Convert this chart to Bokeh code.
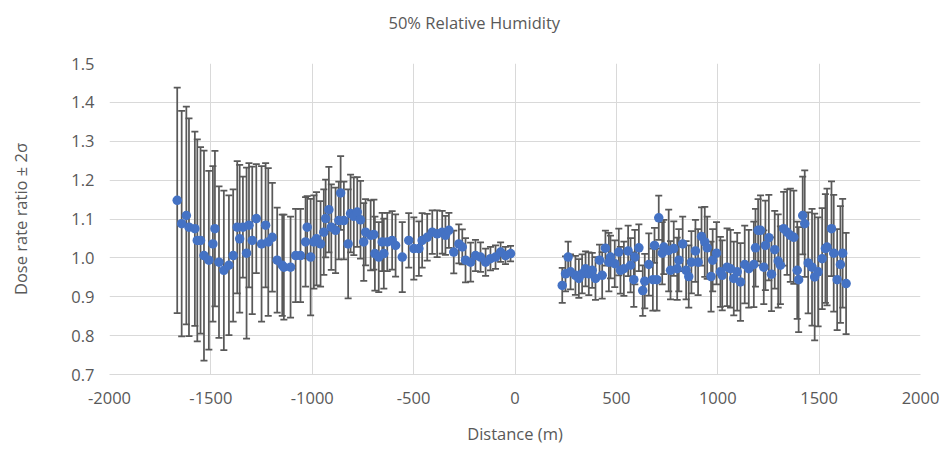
from bokeh.plotting import figure
from bokeh.models import (ColumnDataSource, Whisker, TeeHead, FixedTicker, Range1d,
                          CustomJSTickFormatter, Title)
from bokeh.embed import file_html
from bokeh.resources import INLINE

# ---- data ----
x_left = [-1666, -1644, -1621, -1608, -1579, -1567, -1551, -1534, -1510, -1490,
          -1480, -1460, -1436, -1411, -1390, -1370, -1358, -1342, -1324, -1312,
          -1296, -1276, -1250, -1230, -1217, -1197, -1173, -1148, -1140, -1107,
          -1082, -1058, -1033, -1025, -1008, -992, -979, -959, -943, -934,
          -918, -906, -885, -869, -860, -844, -823, -811, -795, -778,
          -762, -746, -737, -712, -696, -691, -672, -655, -647, -630,
          -606, -589, -556, -524, -499, -474, -458, -433, -408, -384,
          -359, -343, -326, -302, -277, -260, -244, -219, -195, -170,
          -145, -121, -96, -71, -47, -22]
y_left = [1.148, 1.088, 1.109, 1.079, 1.075, 1.045, 1.045, 1.006, 0.994, 1.036,
          1.075, 0.989, 0.968, 0.981, 1.006, 1.079, 1.049, 1.079, 1.012, 1.084,
          1.045, 1.101, 1.036, 1.084, 1.041, 1.053, 0.994, 0.981, 0.976, 0.976,
          1.006, 1.006, 1.041, 1.079, 1.002, 1.041, 1.049, 1.036, 1.066, 1.101,
          1.124, 1.079, 1.071, 1.096, 1.167, 1.096, 1.036, 1.114, 1.107, 1.118,
          1.098, 1.041, 1.066, 1.058, 1.060, 1.011, 1.002, 1.041, 1.011, 1.041,
          1.045, 1.032, 1.002, 1.045, 1.024, 1.024, 1.045, 1.053, 1.066, 1.062,
          1.066, 1.058, 1.071, 1.015, 1.036, 1.028, 0.994, 0.989, 1.006, 1.002,
          0.989, 0.998, 1.002, 1.015, 1.006, 1.011]
err_left = [0.290, 0.290, 0.280, 0.280, 0.250, 0.260, 0.240, 0.270, 0.230, 0.200,
            0.200, 0.195, 0.205, 0.180, 0.170, 0.170, 0.190, 0.130, 0.220, 0.160,
            0.190, 0.140, 0.200, 0.160, 0.190, 0.140, 0.135, 0.130, 0.135, 0.130,
            0.120, 0.120, 0.115, 0.080, 0.150, 0.120, 0.120, 0.110, 0.110, 0.100,
            0.110, 0.110, 0.110, 0.100, 0.095, 0.100, 0.140, 0.100, 0.100, 0.090,
            0.100, 0.100, 0.085, 0.090, 0.090, 0.095, 0.090, 0.075, 0.090, 0.075,
            0.075, 0.080, 0.090, 0.070, 0.080, 0.070, 0.070, 0.060, 0.056, 0.060,
            0.055, 0.050, 0.045, 0.055, 0.050, 0.045, 0.057, 0.050, 0.040, 0.038,
            0.035, 0.030, 0.030, 0.025, 0.022, 0.020]

x_right = [233, 249, 262, 274, 298, 315, 331, 348, 364, 381,
           397, 417, 430, 446, 463, 471, 492, 512, 520, 537,
           558, 570, 586, 591, 611, 630, 640, 660, 680, 688,
           700, 709, 726, 734, 758, 767, 783, 800, 808, 827,
           844, 857, 870, 890, 903, 920, 936, 948, 967, 975,
           994, 1013, 1022, 1046, 1063, 1079, 1096, 1112, 1133, 1153,
           1178, 1186, 1199, 1211, 1227, 1235, 1252, 1265, 1281, 1298,
           1309, 1325, 1342, 1358, 1375, 1392, 1399, 1419, 1429, 1446,
           1465, 1478, 1495, 1515, 1531, 1539, 1561, 1572, 1589, 1605,
           1616, 1633]
y_right = [0.929, 0.959, 1.002, 0.964, 0.955, 0.947, 0.959, 0.972, 0.959, 0.968,
           0.947, 0.994, 0.955, 1.025, 0.989, 1.002, 0.985, 1.015, 0.968, 0.972,
           1.018, 0.981, 0.944, 1.002, 1.026, 0.916, 0.940, 0.983, 0.944, 1.032,
           0.944, 1.103, 1.012, 1.028, 1.019, 0.968, 1.024, 0.972, 0.994, 1.036,
           0.968, 0.952, 0.989, 1.018, 0.989, 1.055, 1.041, 1.026, 0.952, 0.994,
           1.012, 0.964, 0.955, 0.976, 0.972, 0.947, 0.964, 0.938, 0.983, 0.972,
           0.983, 1.026, 1.071, 1.071, 0.976, 1.032, 1.052, 0.958, 1.021, 0.992,
           0.981, 1.075, 1.066, 1.058, 1.053, 0.968, 0.944, 1.109, 1.088, 0.987,
           0.976, 0.951, 0.964, 0.998, 1.024, 1.028, 1.075, 1.012, 0.944, 0.983,
           1.012, 0.934]
err_right = [0.045, 0.045, 0.040, 0.045, 0.050, 0.050, 0.050, 0.045, 0.055, 0.045,
             0.055, 0.040, 0.060, 0.045, 0.075, 0.055, 0.060, 0.060, 0.060, 0.070,
             0.065, 0.070, 0.070, 0.070, 0.060, 0.065, 0.070, 0.080, 0.080, 0.045,
             0.080, 0.057, 0.080, 0.070, 0.105, 0.075, 0.070, 0.080, 0.080, 0.070,
             0.075, 0.080, 0.080, 0.080, 0.085, 0.075, 0.090, 0.080, 0.090, 0.080,
             0.080, 0.090, 0.090, 0.100, 0.100, 0.095, 0.100, 0.100, 0.100, 0.100,
             0.110, 0.100, 0.080, 0.090, 0.095, 0.115, 0.110, 0.095, 0.100, 0.120,
             0.100, 0.095, 0.110, 0.120, 0.120, 0.125, 0.135, 0.100, 0.137, 0.130,
             0.150, 0.163, 0.140, 0.130, 0.140, 0.150, 0.122, 0.150, 0.130, 0.150,
             0.140, 0.130]

x_ticks = [-2000, -1500, -1000, -500, 0, 500, 1000, 1500, 2000]
y_ticks = [0.7, 0.8, 0.9, 1.0, 1.1, 1.2, 1.3, 1.4, 1.5]

title_text = "50% Relative Humidity"
x_label = "Distance (m)"
y_label = "Dose rate ratio ± 2σ"

# ---- build ----
xs = x_left + x_right
ys = y_left + y_right
es = err_left + err_right
src = ColumnDataSource(dict(
    x=xs, y=ys,
    upper=[a + b for a, b in zip(ys, es)],
    lower=[a - b for a, b in zip(ys, es)],
))

FONT = "Open Sans"
GREY_TXT = "#595959"
GRID = "#D9D9D9"

p = figure(width=947, height=461, output_backend="svg", toolbar_location=None,
           x_range=Range1d(-2000, 2000), y_range=Range1d(0.7, 1.5),
           min_border_left=109, min_border_right=27, min_border_top=63,
           min_border_bottom=87)
p.outline_line_color = None
p.background_fill_color = "white"
p.border_fill_color = "white"

# main title (outermost) plus an empty spacer panel between it and the frame
p.title.text = title_text
p.title.align = "left"
p.title.offset = 279
p.title.text_font = FONT
p.title.text_font_size = "16.5px"
p.title.text_font_style = "normal"
p.title.text_color = GREY_TXT
p.title.standoff = 14

spacer = Title(text=" ", text_font_size="8px", standoff=12)
p.add_layout(spacer, "above")

for ax in (p.xaxis[0], p.yaxis[0]):
    ax.major_tick_line_color = None
    ax.minor_tick_line_color = None
    ax.major_label_text_font = FONT
    ax.major_label_text_font_size = "16.5px"
    ax.major_label_text_color = GREY_TXT
    ax.axis_label_text_font = FONT
    ax.axis_label_text_font_size = "16.5px"
    ax.axis_label_text_font_style = "normal"
    ax.axis_label_text_color = GREY_TXT

p.xaxis[0].ticker = FixedTicker(ticks=x_ticks)
p.yaxis[0].ticker = FixedTicker(ticks=y_ticks)
p.xaxis[0].formatter = CustomJSTickFormatter(code="return String(tick);")
p.yaxis[0].formatter = CustomJSTickFormatter(code="return tick.toFixed(1);")
p.xaxis[0].axis_label = x_label
p.yaxis[0].axis_label = y_label
p.xaxis[0].axis_line_color = GRID
p.xaxis[0].axis_line_width = 1
p.yaxis[0].axis_line_color = None
p.xaxis[0].major_label_standoff = 11
p.yaxis[0].major_label_standoff = 9
p.xaxis[0].axis_label_standoff = 15
p.yaxis[0].axis_label_standoff = 36

p.xgrid.ticker = FixedTicker(ticks=x_ticks)
p.ygrid.ticker = FixedTicker(ticks=y_ticks)
p.xgrid.grid_line_color = GRID
p.ygrid.grid_line_color = GRID
p.xgrid.grid_line_width = 1
p.ygrid.grid_line_width = 1

ERR = "#595959"
wh = Whisker(base="x", upper="upper", lower="lower", source=src,
             line_color=ERR, line_width=1.75, level="underlay",
             upper_head=TeeHead(size=7, line_color=ERR, line_width=1.75),
             lower_head=TeeHead(size=7, line_color=ERR, line_width=1.75))
p.add_layout(wh)

p.scatter("x", "y", source=src, size=9.5, marker="circle",
          fill_color="#4472C4", line_color="#4472C4", line_width=0)

open("out.html", "w").write(file_html(p, INLINE))
